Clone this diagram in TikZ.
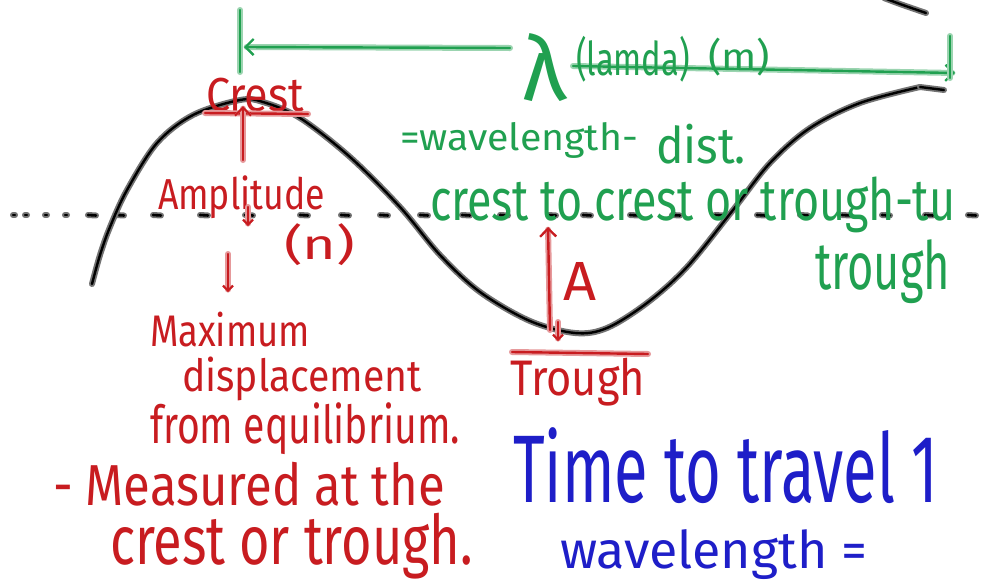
\documentclass[tikz,border=0pt]{standalone}
\usepackage{fontspec}
\setmainfont{Fira Sans}
\usetikzlibrary{arrows.meta}
\definecolor{pr}{RGB}{200,28,32}
\definecolor{pg}{RGB}{32,160,80}
\definecolor{pb}{RGB}{30,30,200}
\newcommand{\hwbox}[3]{\resizebox*{#1pt}{#2pt}{#3}}
\begin{document}
\begin{tikzpicture}[x=1pt,y=-1pt,
  txt/.style={anchor=north west,inner sep=0pt,outer sep=0pt},
  pen/.style={draw=#1,line width=2.4pt,line cap=round,line join=round,
    preaction={draw=#1!45,line width=6pt,line cap=round,line join=round}},
  barb/.style={-{Straight Barb[length=8pt,width=16pt,line width=2.2pt]}},
  sbarb/.style={-{Straight Barb[length=5pt,width=10pt,line width=2pt]}},
  wave/.style={draw=black,line width=2.4pt,line cap=round,
    preaction={draw=black!55,line width=6pt,line cap=round}},
  eq/.style={draw=black,line width=2.6pt,line cap=round,
    preaction={draw=black!55,line width=6pt,line cap=round}}]
\useasboundingbox[fill=white] (0,0) rectangle (989,582);

% equilibrium line
\foreach \x in {13,25,45,65} \draw[eq] (\x,215) -- (\x+2,215);
\foreach \x in {88,116,153,200,245,300,341,380,420,462,500,548,583,630,672,715,757,800,842,882,925,968}
  \draw[eq] (\x,215) -- (\x+8,215.5);

% wave
\draw[wave] plot[smooth,tension=0.55] coordinates {(92,284) (100,255) (110,227) (127,190) (157,143) (193,115) (240,100) (263,102) (300,118) (350,157) (400,207) (440,255) (480,292) (530,321) (575,333) (607,328) (647,303) (687,267) (733,210) (770,163) (810,128) (860,103) (920,87)};
\draw[wave] (920,87) -- (944,90);
\draw[wave] plot[smooth] coordinates {(884,-2) (900,4) (926,13)};

% green wavelength marks
\coordinate (lt) at (240,10); \coordinate (lb) at (240,72);
\coordinate (la) at (510,48); \coordinate (lh) at (244,47);
\coordinate (ra) at (573,66); \coordinate (rh) at (955,73);
\coordinate (rt) at (950,36); \coordinate (rb) at (950,78);
\draw[pen=pg] (lt) -- (lb);
\draw[pen=pg,barb] (la) -- (lh);
\draw[pen=pg,barb] (ra) -- (rh);
\draw[pen=pg] (rt) -- (rb);
\node[txt,text=pg] (lam) at (522,33) {\hwbox{44}{68}{λ}};
\node[txt,text=pg] (lamda) at (576,36) {\hwbox{114}{46}{(lamda)}};
\node[txt,text=pg] (m) at (708,38) {\hwbox{62}{38}{(m)}};
\node[txt,text=pg] (wl) at (400,122) {\hwbox{238}{36}{=wavelength-}};
\node[txt,text=pg] (dist) at (656,124) {\hwbox{90}{40}{dist.}};
\node[txt,text=pg] (cc) at (430,177) {\hwbox{525}{56}{crest to crest or trough-tu}};
\node[txt,text=pg] (tr2) at (815,240) {\hwbox{135}{64}{trough}};

% red crest / amplitude
\node[txt,text=pr] (crest) at (206,78) {\hwbox{98}{34}{Crest}};
\coordinate (cl) at (205,113); \coordinate (cr) at (308,114);
\draw[pen=pr] (cl) -- (cr);
\coordinate (aa) at (243,160); \coordinate (ab) at (243,106);
\draw[pen=pr,barb] (aa) -- (ab);
\node[txt,text=pr] (amp) at (158,176) {\hwbox{167}{43}{Amplitude}};
\coordinate (s1) at (248,207); \coordinate (s2) at (248,226);
\draw[pen=pr,sbarb] (s1) -- (s2);
\node[txt,text=pr] (n) at (284,224) {\hwbox{71}{42}{(n)}};
\coordinate (d1) at (228,254); \coordinate (d2) at (228,292);
\draw[pen=pr,sbarb] (d1) -- (d2);
\node[txt,text=pr] (max) at (150,312) {\hwbox{160}{35}{Maximum}};
\node[txt,text=pr] (disp) at (182,357) {\hwbox{240}{44}{displacement}};
\node[txt,text=pr] (from) at (150,403) {\hwbox{310}{52}{from equilibrium.}};
\node[txt,text=pr] (meas) at (53,462) {\hwbox{392}{44}{- Measured at the}};
\node[txt,text=pr] (cot) at (110,513) {\hwbox{363}{66}{crest or trough.}};

% red trough / A
\coordinate (t1) at (550,330); \coordinate (t2) at (548,227);
\draw[pen=pr,barb] (t1) -- (t2);
\coordinate (v1) at (558,322); \coordinate (v2) at (558,341);
\draw[pen=pr,sbarb] (v1) -- (v2);
\node[txt,text=pr] (A) at (563,262) {\hwbox{33}{38}{A}};
\coordinate (u1) at (512,352); \coordinate (u2) at (648,354);
\draw[pen=pr] (u1) -- (u2);
\node[txt,text=pr] (trough) at (510,358) {\hwbox{135}{48}{Trough}};

% blue
\node[txt,text=pb] (time) at (513,428) {\hwbox{425}{76}{Time to travel 1}};
\node[txt,text=pb] (wle) at (560,530) {\hwbox{307}{50}{wavelength =}};
\end{tikzpicture}
\end{document}
